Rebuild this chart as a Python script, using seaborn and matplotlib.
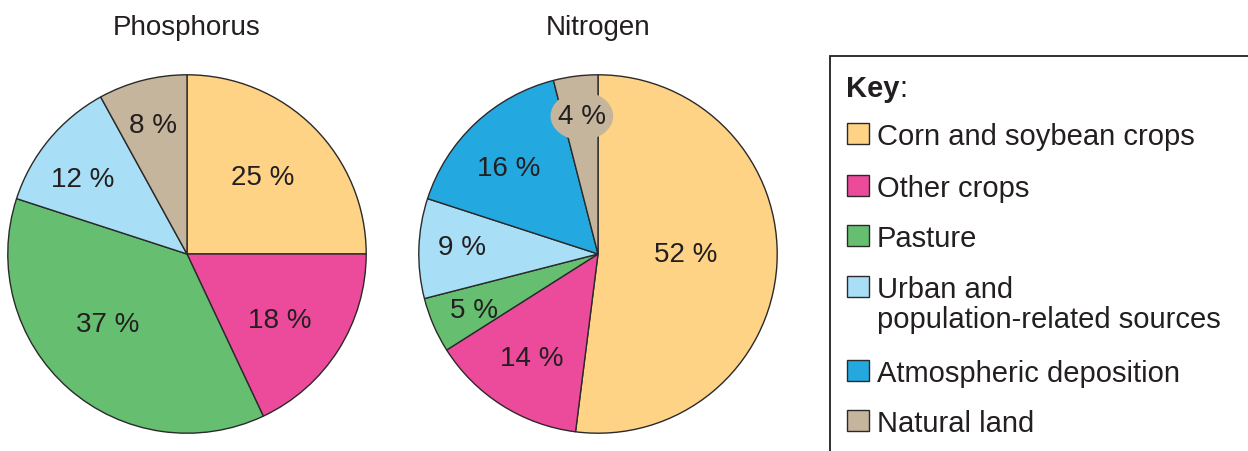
import numpy as np
import seaborn as sns
import matplotlib.pyplot as plt
from matplotlib.patches import Rectangle, Ellipse

sns.set_theme(style="white")
plt.rcParams['font.family'] = ['Liberation Sans', 'DejaVu Sans']

# data
categories = ['Corn and soybean crops', 'Other crops', 'Pasture',
              'Urban and\npopulation-related sources', 'Atmospheric deposition',
              'Natural land']
colors = ['#FED385', '#EC4A9B', '#66BF70', '#A8DEF6', '#24A8E0', '#C5B59C']

phos_cats = [0, 1, 2, 3, 5]
phos_vals = [25, 18, 37, 12, 8]
nitro_cats = [0, 1, 2, 3, 4, 5]
nitro_vals = [52, 14, 5, 9, 16, 4]

# label positions in pie-radius units
phos_lab = [(0.42, 0.43), (0.52, -0.37), (-0.44, -0.39), (-0.58, 0.42), (-0.19, 0.72)]
nitro_lab = [(0.49, 0.0), (-0.37, -0.58), (-0.69, -0.31), (-0.76, 0.04), (-0.50, 0.48), (-0.09, 0.77)]

INK = '#231f20'
W, H = 1248, 452
fig = plt.figure(figsize=(W / 100, H / 100), dpi=100)

# overlay axes in pixel units for titles and the key
over = fig.add_axes([0, 0, 1, 1], zorder=5)
over.set_xlim(0, W)
over.set_ylim(H, 0)
over.axis('off')
over.patch.set_alpha(0)


def draw_pie(cx, cy, r, title, vals, cats, labpos):
    ax = fig.add_axes([(cx - r) / W, 1 - (cy + r) / H, 2 * r / W, 2 * r / H])
    ax.pie(vals, colors=[colors[c] for c in cats], startangle=90, counterclock=False,
           radius=1, wedgeprops=dict(edgecolor='#2a2a2a', linewidth=1.0))
    ax.set_xlim(-1.01, 1.01)
    ax.set_ylim(-1.01, 1.01)
    ax.set_aspect('equal')
    ax.axis('off')
    for v, (x, y) in zip(vals, labpos):
        ax.text(x, y, f"{v} %", ha='center', va='center', fontsize=20, color=INK, zorder=3)
    over.text(cx, 35, title, ha='center', va='baseline', fontsize=20, color=INK)
    return ax


draw_pie(187, 255, 181, 'Phosphorus', phos_vals, phos_cats, phos_lab)
axn = draw_pie(598, 255, 181, 'Nitrogen', nitro_vals, nitro_cats, nitro_lab)
# tan blob behind the small 4 % label
x4, y4 = nitro_lab[-1]
axn.add_patch(Ellipse((x4, y4), 0.35, 0.27, facecolor=colors[5], edgecolor='none', zorder=2))

# key box
over.add_patch(Rectangle((830, 57), 500, 500, facecolor='white', edgecolor=INK,
                         linewidth=1.3, clip_on=False))
key = over.text(846, 97, 'Key', fontsize=21, fontweight='bold', va='baseline', color=INK)
over.annotate(':', xy=(1, 0), xycoords=key, xytext=(0, 0), textcoords='offset points',
              fontsize=21, va='bottom', color=INK)
baselines = [145, 197, 247, 298, 382, 432]
for c, yb in enumerate(baselines):
    over.add_patch(Rectangle((847, yb - 21), 22, 21, facecolor=colors[c],
                             edgecolor='#2a2a2a', linewidth=1.0))
    for i, line in enumerate(categories[c].split('\n')):
        over.text(877, yb + i * 30, line, fontsize=21, va='baseline', color=INK)

fig.savefig('out.png', dpi=100)
